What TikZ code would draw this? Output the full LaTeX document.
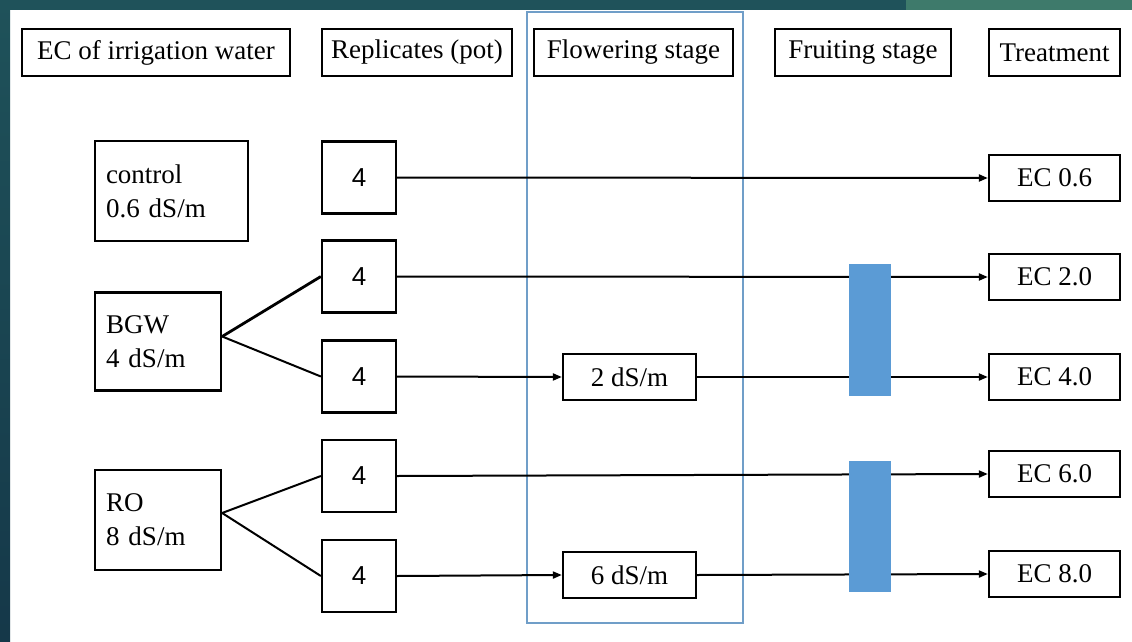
\documentclass[tikz,border=0pt]{standalone}
\usepackage{fontspec}
\setmainfont{Liberation Serif}
\newfontfamily\serf{Liberation Serif}
\newfontfamily\sansf{Liberation Sans}
\usetikzlibrary{arrows.meta}
\definecolor{frameblue}{RGB}{112,158,200}
\definecolor{barblue}{RGB}{91,155,213}
\definecolor{tealA}{RGB}{31,82,90}
\definecolor{tealB}{RGB}{21,56,73}
\definecolor{tealC}{RGB}{62,122,107}
\begin{document}
\begin{tikzpicture}[x=1pt,y=-1pt,
  font=\serf\fontsize{27}{34}\selectfont,
  box/.style={draw=black, line width=2.3pt, fill=white, inner sep=0pt, align=center},
  head/.style={box, minimum height=47pt},
  rep/.style={box, minimum width=74pt, minimum height=72pt, font=\sansf\fontsize{26}{30}\selectfont},
  ecbox/.style={box, minimum width=131pt, minimum height=46pt},
  midbox/.style={box, minimum width=133pt, minimum height=46pt},
  src/.style={box, inner xsep=11pt, align=left},
  conn/.style={line width=2pt},
  arr/.style={conn, -{Triangle[length=9pt,width=7pt]}},
  bar/.style={fill=barblue, draw=none}
]
\useasboundingbox (0,0) rectangle (1132,642);
% background
\fill[white] (0,0) rectangle (1132,642);
\shade[top color=tealA, bottom color=tealB] (0,0) rectangle (10,642);
\fill[tealA] (0,0) rectangle (906,10);
\fill[tealC] (906,0) rectangle (1132,10);

% flowering stage frame
\draw[frameblue, line width=2.2pt] (527,12) rectangle (743,623);

% headers
\node[head, minimum width=268pt] (h1) at (156,52.5) {EC of irrigation water};
\node[head, minimum width=190pt] (h2) at (417,52.5) {Replicates (pot)};
\node[head, minimum width=199pt] (h3) at (633.5,52.5) {Flowering stage};
\node[head, minimum width=176pt] (h4) at (863,52.5) {Fruiting stage};
\node[head, minimum width=131pt] (h5) at (1054.5,52.5) {Treatment};

% source boxes
\node[src, minimum width=153pt, minimum height=100pt, text width=131pt] (ctrl) at (171.5,191) {control\\0.6 dS/m};
\node[src, minimum width=126pt, minimum height=98pt, text width=104pt] (bgw) at (158,341.5) {BGW\\4 dS/m};
\node[src, minimum width=126pt, minimum height=100pt, text width=104pt] (ro) at (158,520) {RO\\8 dS/m};

% replicate boxes
\node[rep] (r1) at (359,177.5) {4};
\node[rep] (r2) at (359,276.5) {4};
\node[rep] (r3) at (359,376.5) {4};
\node[rep] (r4) at (359,476) {4};
\node[rep] (r5) at (359,576) {4};

% flowering stage boxes
\node[midbox] (m1) at (629.5,377) {2 dS/m};
\node[midbox] (m2) at (629.5,575) {6 dS/m};

% treatment boxes
\node[ecbox] (e1) at (1054.5,178) {EC 0.6};
\node[ecbox] (e2) at (1054.5,277) {EC 2.0};
\node[ecbox] (e3) at (1054.5,377) {EC 4.0};
\node[ecbox] (e4) at (1054.5,474) {EC 6.0};
\node[ecbox] (e5) at (1054.5,574) {EC 8.0};

% splitting connectors
\draw[line width=2.8pt] ([yshift=5pt]bgw.east) -- (r2.west);
\draw[conn] ([yshift=5pt]bgw.east) -- (r3.west);
\draw[conn] ([yshift=7pt]ro.east) -- (r4.west);
\draw[conn] ([yshift=7pt]ro.east) -- (r5.west);

% horizontal connectors
\draw[arr] (r1.east) -- (e1.west);
\draw[arr] (r2.east) -- (e2.west);
\draw[arr] (r3.east) -- (m1.west);
\draw[arr] (m1.east) -- (e3.west);
\draw[arr] (r4.east) -- (e4.west);
\draw[arr] (r5.east) -- (m2.west);
\draw[arr] (m2.east) -- (e5.west);

% fruiting stage bars
\fill[barblue] (849,264) rectangle (891,396);
\fill[barblue] (849,461) rectangle (891,592);
\end{tikzpicture}
\end{document}
